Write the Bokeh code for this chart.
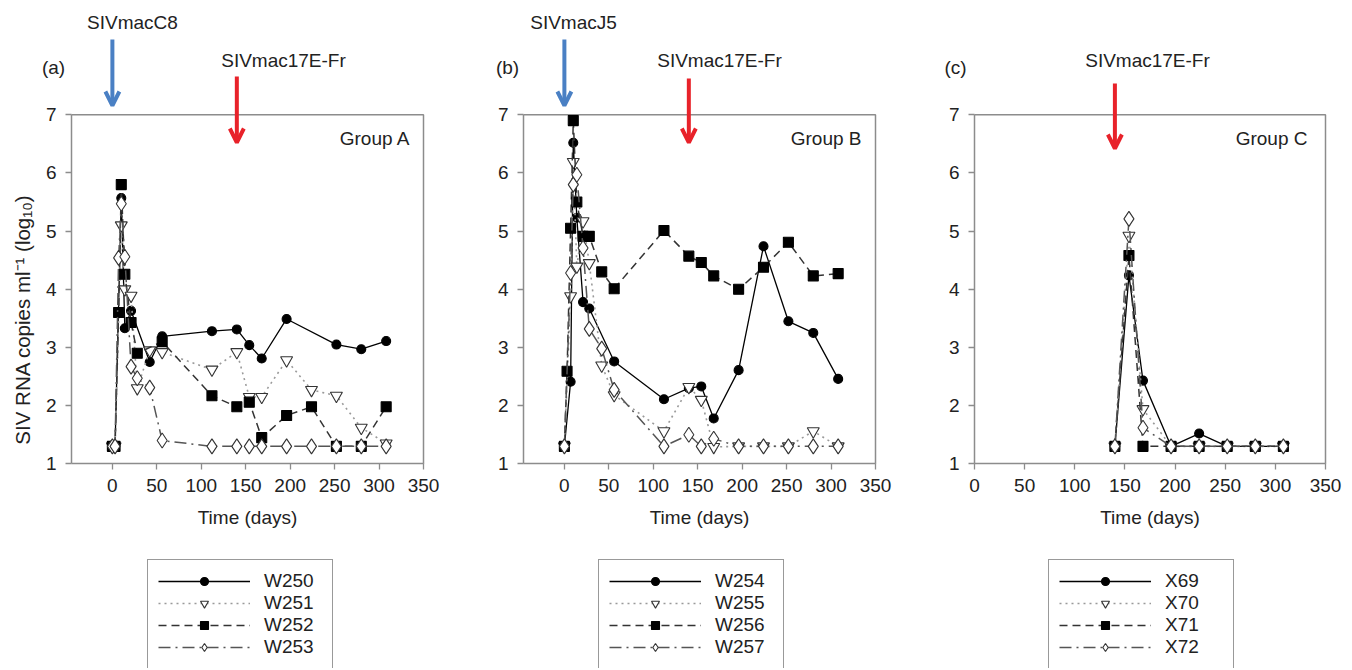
import math
from bokeh.plotting import figure
from bokeh.layouts import row
from bokeh.models import (Range1d, FixedTicker, Arrow, OpenHead, Label, Legend, LegendItem,
                          LinearAxis)
from bokeh.embed import file_html
from bokeh.resources import INLINE

FONT = "Liberation Sans"
FS = "19px"
TXT = "#222222"
AX = "#8c8c8c"

# ---------------- data ----------------
# Panel (a) Group A
a_names = ["W250", "W251", "W252", "W253"]
a_W250_days = [0, 3, 10, 14, 21, 42, 56, 112, 140, 154, 168, 196, 252, 280, 308]
a_W250_vals = [1.3, 1.3, 5.57, 3.33, 3.63, 2.75, 3.19, 3.28, 3.31, 3.04, 2.81, 3.49, 3.05, 2.97, 3.11]
a_W251_days = [0, 3, 10, 14, 21, 28, 42, 56, 112, 140, 154, 168, 196, 224, 252, 280, 308]
a_W251_vals = [1.3, 1.3, 5.1, 4.0, 3.89, 2.3, 2.95, 2.92, 2.62, 2.92, 2.15, 2.15, 2.78, 2.27, 2.17, 1.62, 1.35]
a_W252_days = [0, 3, 7, 10, 14, 21, 28, 56, 112, 140, 154, 168, 196, 224, 252, 280, 308]
a_W252_vals = [1.3, 1.3, 3.6, 5.8, 4.26, 3.43, 2.9, 3.1, 2.17, 1.98, 2.06, 1.45, 1.83, 1.98, 1.3, 1.3, 1.98]
a_W253_days = [0, 3, 7, 10, 14, 21, 28, 42, 56, 112, 140, 154, 168, 196, 224, 252, 280, 308]
a_W253_vals = [1.3, 1.3, 4.54, 5.47, 4.56, 2.67, 2.47, 2.31, 1.4, 1.3, 1.3, 1.3, 1.3, 1.3, 1.3, 1.3, 1.3, 1.3]

# Panel (b) Group B
b_names = ["W254", "W255", "W256", "W257"]
b_W254_days = [0, 7, 10, 14, 21, 28, 56, 112, 140, 154, 168, 196, 224, 252, 280, 308]
b_W254_vals = [1.3, 2.41, 6.52, 5.23, 3.78, 3.67, 2.76, 2.11, 2.3, 2.33, 1.78, 2.61, 4.74, 3.45, 3.25, 2.46]
b_W255_days = [0, 7, 10, 14, 21, 28, 42, 56, 112, 140, 154, 168, 196, 224, 252, 280, 308]
b_W255_vals = [1.3, 3.88, 6.19, 4.39, 5.17, 4.45, 2.69, 2.18, 1.56, 2.32, 2.1, 1.29, 1.3, 1.3, 1.3, 1.56, 1.3]
b_W256_days = [0, 3, 7, 10, 14, 21, 28, 42, 56, 112, 140, 154, 168, 196, 224, 252, 280, 308]
b_W256_vals = [1.3, 2.59, 5.05, 6.9, 5.5, 4.91, 4.91, 4.3, 4.01, 5.01, 4.57, 4.46, 4.23, 4.0, 4.38, 4.81, 4.23, 4.27]
b_W257_days = [0, 7, 10, 14, 21, 28, 42, 56, 112, 140, 154, 168, 196, 224, 252, 280, 308]
b_W257_vals = [1.3, 4.28, 5.8, 5.97, 4.71, 3.32, 2.98, 2.27, 1.3, 1.5, 1.3, 1.43, 1.3, 1.3, 1.3, 1.3, 1.3]

# Panel (c) Group C
c_names = ["X69", "X70", "X71", "X72"]
c_days = [140, 154, 168, 196, 224, 252, 280, 308]
c_X69_vals = [1.3, 4.24, 2.43, 1.3, 1.52, 1.3, 1.3, 1.3]
c_X70_vals = [1.3, 4.92, 1.94, 1.3, 1.3, 1.3, 1.3, 1.3]
c_X71_vals = [1.3, 4.58, 1.3, 1.3, 1.3, 1.3, 1.3, 1.3]
c_X72_vals = [1.3, 5.21, 1.62, 1.3, 1.3, 1.3, 1.3, 1.3]

x_ticks = [0, 50, 100, 150, 200, 250, 300, 350]
y_ticks = [1, 2, 3, 4, 5, 6, 7]

first_virus = ["SIVmacC8", "SIVmacJ5", None]
first_day = [0, 0, None]
second_virus = "SIVmac17E-Fr"
second_day = 140
groups = ["Group A", "Group B", "Group C"]
letters = ["(a)", "(b)", "(c)"]
y_title = "SIV RNA copies ml\u207b\u00b9 (log\u2081\u2080)"
x_title = "Time (days)"

# ---------------- styles / layout ----------------
STYLES = [
    dict(marker="circle", size=9, fill="black", mline="black", dash="solid", lcolor="black", lw=1.3),
    dict(marker="inverted_triangle", size=12, fill="white", mline="#333333", dash="2 4", lcolor="#9a9a9a", lw=1.6),
    dict(marker="square", size=10, fill="black", mline="black", dash="8 5", lcolor="#333333", lw=1.5),
    dict(marker="diamond", size=15, fill="white", mline="#333333", dash="12 5 2 5", lcolor="#555555", lw=1.5),
]
BLUE = "#4a80c4"
RED = "#e8222a"
H = 668
Y_TOP_PX, Y_BOT_PX = 114.3, 463.3   # canvas px of y=7 and y=1


def yv(py):
    return 7 - (py - Y_TOP_PX) * 6.0 / (Y_BOT_PX - Y_TOP_PX)


def make_panel(series, names, idx, W, L, R, x0, page_off, texts, red_arrow_px, legend_left):
    k = (350 - x0) / (R - L)

    def xv(page_px):
        return x0 + (page_px - page_off - L) * k

    p = figure(width=W, height=H,
               x_range=Range1d(x0 - L * k, 350 + (W - R) * k),
               y_range=Range1d(yv(H), yv(0)),
               x_axis_location=None, y_axis_location=None,
               output_backend="svg", toolbar_location=None, min_border=0)
    p.outline_line_color = None
    p.background_fill_color = "white"
    p.border_fill_color = "white"
    p.xgrid.visible = False
    p.ygrid.visible = False

    xaxis = LinearAxis(fixed_location=1, bounds=(x0, 350), ticker=FixedTicker(ticks=x_ticks),
                       axis_label=x_title)
    yaxis = LinearAxis(fixed_location=x0, bounds=(1, 7), ticker=FixedTicker(ticks=y_ticks))
    for ax in (xaxis, yaxis):
        ax.axis_line_color = AX
        ax.axis_line_width = 1.5
        ax.major_tick_line_color = AX
        ax.major_tick_line_width = 1.3
        ax.major_tick_out = 6
        ax.major_tick_in = 0
        ax.minor_tick_line_color = None
        ax.major_label_text_font = FONT
        ax.major_label_text_font_size = FS
        ax.major_label_text_color = TXT
        ax.major_label_standoff = 9
        ax.axis_label_text_font = FONT
        ax.axis_label_text_font_size = FS
        ax.axis_label_text_font_style = "normal"
        ax.axis_label_text_color = TXT
    xaxis.axis_label_standoff = 12
    p.add_layout(xaxis, "below")
    p.add_layout(yaxis, "left")

    # top and right edges of the plot box
    p.line([x0, 350, 350], [7, 7, 1], line_color=AX, line_width=1.5)

    items = []
    for (days, vals), name, st in zip(series, names, STYLES):
        lr = p.line(days, vals, line_color=st["lcolor"], line_width=st["lw"], line_dash=st["dash"])
        sr = p.scatter(days, vals, marker=st["marker"], size=st["size"], fill_color=st["fill"],
                       line_color=st["mline"], line_width=1.1)
        items.append(LegendItem(label=name, renderers=[lr, sr]))

    legend = Legend(items=items, location=(legend_left - page_off, -1), orientation="vertical",
                    border_line_color="#333333", border_line_width=1.2,
                    background_fill_color="white", background_fill_alpha=1.0,
                    label_text_font=FONT, label_text_font_size=FS, label_text_color=TXT,
                    glyph_width=92, glyph_height=20, label_height=20, label_width=58,
                    label_standoff=14, padding=10, spacing=0, margin=0)
    p.add_layout(legend)

    def label(px, py, text, align, size=FS, angle=0.0):
        p.add_layout(Label(x=xv(px), y=yv(py), text=text, text_align=align, text_baseline="middle",
                           text_font=FONT, text_font_size=size, text_color=TXT, angle=angle))

    if idx == 0:
        label(22, 319, y_title, "center", size="20.5px", angle=math.pi / 2)

    if first_day[idx] is not None:
        p.add_layout(Arrow(end=OpenHead(size=14, line_width=4, line_color=BLUE),
                           x_start=first_day[idx], y_start=yv(39), x_end=first_day[idx], y_end=yv(105),
                           line_width=4, line_color=BLUE))
        label(texts["first"], 22, first_virus[idx], "center")
    p.add_layout(Arrow(end=OpenHead(size=14, line_width=4, line_color=RED),
                       x_start=second_day, y_start=yv(red_arrow_px[0]), x_end=second_day,
                       y_end=yv(red_arrow_px[1]), line_width=4, line_color=RED))
    label(texts["second"], 60, second_virus, "center")
    label(texts["letter"], 67, letters[idx], "center")
    label(texts["group"], 138, groups[idx], "right")
    return p


pa = make_panel([(a_W250_days, a_W250_vals), (a_W251_days, a_W251_vals),
                 (a_W252_days, a_W252_vals), (a_W253_days, a_W253_vals)],
                a_names, 0, 458, 71, 423, -46, 0,
                dict(first=132, second=283, letter=53, group=410), (76, 142), 147)
pb = make_panel([(b_W254_days, b_W254_vals), (b_W255_days, b_W255_vals),
                 (b_W256_days, b_W256_vals), (b_W257_days, b_W257_vals)],
                b_names, 1, 456, 65, 417, -46, 458,
                dict(first=573, second=719, letter=507, group=861), (78, 142), 598)
pc = make_panel([(c_days, c_X69_vals), (c_days, c_X70_vals),
                 (c_days, c_X71_vals), (c_days, c_X72_vals)],
                c_names, 2, 430, 60, 411, 0, 914,
                dict(first=0, second=1147, letter=955, group=1307), (83, 148), 1048)

layout = row(pa, pb, pc)
open("out.html", "w").write(file_html(layout, INLINE))
